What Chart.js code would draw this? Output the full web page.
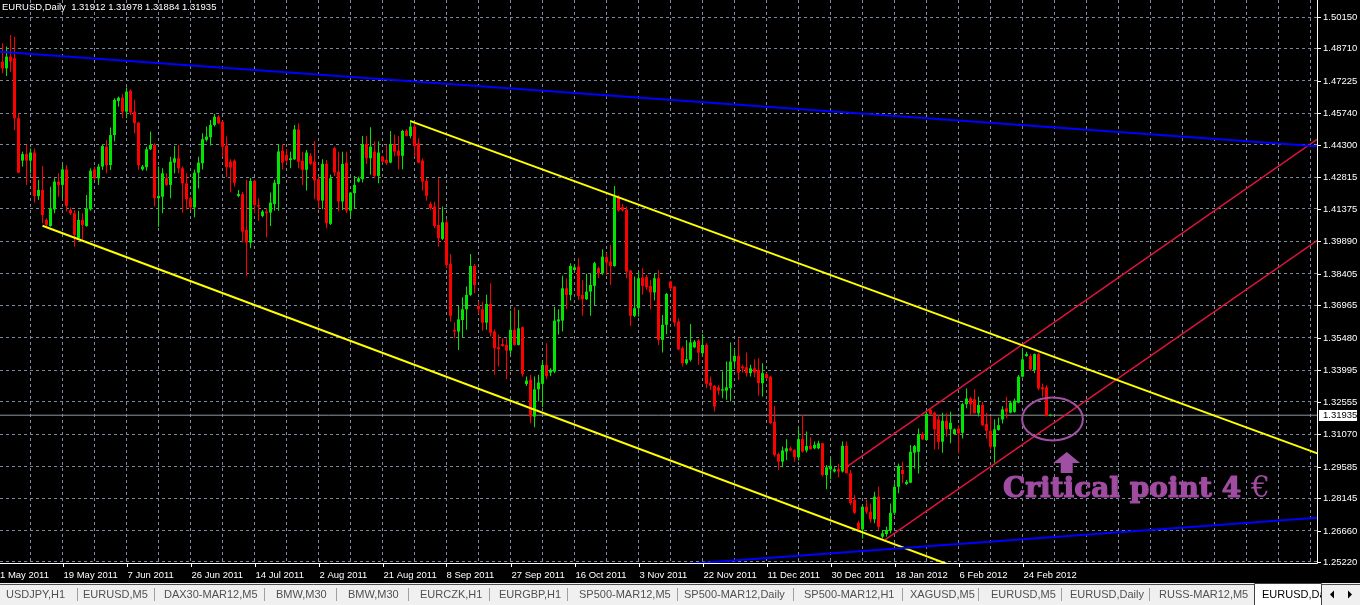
<!DOCTYPE html>
<html>
<head>
<meta charset="utf-8">
<title>EURUSD,Daily</title>
<script src="https://cdn.jsdelivr.net/npm/chart.js@4.4.1/dist/chart.umd.min.js"></script>
<style>
  html, body { margin: 0; padding: 0; background: #000; }
  #wrap { position: relative; width: 1360px; height: 605px; }
</style>
</head>
<body>
<div id="wrap"><canvas id="mtChart"></canvas></div>
<script>
// daily bars, 2 May 2011 .. 4 Mar 2012 (bar index 0 = 2 May 2011)
const opens = [
  1.4811,1.4780,1.4834,1.4826,1.4552,1.4358,1.4388,1.4358,1.4395,1.4196,
  1.4224,1.4087,1.4059,1.4135,1.4262,1.4247,1.4318,1.4132,1.4117,1.4003,
  1.4087,1.4059,1.4135,1.4318,1.4277,1.4331,1.4422,1.4338,1.4475,1.4631,
  1.4646,1.4582,1.4678,1.4582,1.4532,1.4318,1.4328,1.4410,1.4430,1.4186,
  1.4193,1.4277,1.4247,1.4349,1.4369,1.4323,1.4254,1.4186,1.4144,1.4303,
  1.4346,1.4453,1.4465,1.4521,1.4559,1.4536,1.4427,1.4353,1.4358,1.4196,
  1.4205,1.4041,1.3983,1.4265,1.4155,1.4105,1.4125,1.4120,1.4160,1.4251,
  1.4404,1.4384,1.4361,1.4364,1.4501,1.4358,1.4316,1.4380,1.4354,1.4273,
  1.4175,1.4343,1.4069,1.4415,1.4308,1.4171,1.4349,1.4129,1.4209,1.4262,
  1.4273,1.4434,1.4369,1.4399,1.4288,1.4377,1.4361,1.4349,1.4434,1.4404,
  1.4380,1.4495,1.4471,1.4514,1.4437,1.4358,1.4265,1.4160,1.4148,1.4064,
  1.4000,1.4076,1.3886,1.3584,1.3576,1.3629,1.3678,1.3744,1.3876,1.3693,
  1.3678,1.3617,1.3702,1.3576,1.3504,1.3519,1.3515,1.3489,1.3584,1.3515,
  1.3596,1.3336,1.3355,1.3187,1.3312,1.3337,1.3423,1.3388,1.3393,1.3622,
  1.3626,1.3774,1.3744,1.3858,1.3873,1.3744,1.3724,1.3759,1.3785,1.3866,
  1.3843,1.3916,1.3896,1.3876,1.4190,1.4145,1.4133,1.3855,1.3648,1.3683,
  1.3823,1.3825,1.3785,1.3755,1.3820,1.3538,1.3607,1.3805,1.3782,1.3622,
  1.3500,1.3431,1.3447,1.3504,1.3535,1.3477,1.3515,1.3343,1.3328,1.3321,
  1.3306,1.3306,1.3317,1.3439,1.3465,1.3416,1.3413,1.3386,1.3408,1.3401,
  1.3340,1.3382,1.3370,1.3164,1.3016,1.2981,1.3027,1.3042,1.3035,1.3001,
  1.3084,1.3032,1.3053,1.3042,1.3042,1.3065,1.2920,1.2946,1.2936,1.2946,
  1.2936,1.3053,1.2928,1.2805,1.2702,1.2671,1.2775,1.2752,1.2717,1.2821,
  1.2638,1.2650,1.2665,1.2747,1.2866,1.2943,1.2879,1.2885,1.3022,1.3026,
  1.3107,1.3080,1.3217,1.3205,1.3174,1.3072,1.3168,1.3129,1.3107,1.3133,
  1.3113,1.3244,1.3270,1.3266,1.3202,1.3240,1.3153,1.3122,1.3049,1.3126,
  1.3174,1.3225,1.3205,1.3209,1.3251,1.3370,1.3464,1.3464,1.3400,1.3473,
  1.3321,1.3321,1.31912
];
const highs = [
  1.4895,1.4880,1.4933,1.4925,1.4575,1.4399,1.4430,1.4414,1.4414,1.4270,
  1.4334,1.4094,1.4239,1.4277,1.4300,1.4338,1.4338,1.4144,1.4132,1.4129,
  1.4117,1.4201,1.4323,1.4331,1.4343,1.4434,1.4453,1.4510,1.4643,1.4651,
  1.4663,1.4693,1.4684,1.4636,1.4536,1.4338,1.4422,1.4491,1.4437,1.4331,
  1.4323,1.4300,1.4376,1.4425,1.4430,1.4331,1.4300,1.4193,1.4318,1.4376,
  1.4483,1.4514,1.4544,1.4571,1.4567,1.4541,1.4468,1.4364,1.4364,1.4224,
  1.4216,1.4270,1.4280,1.4270,1.4186,1.4132,1.4140,1.4212,1.4270,1.4434,
  1.4434,1.4411,1.4399,1.4521,1.4529,1.4399,1.4407,1.4392,1.4448,1.4285,
  1.4364,1.4361,1.4293,1.4422,1.4399,1.4399,1.4399,1.4215,1.4288,1.4285,
  1.4471,1.4471,1.4511,1.4445,1.4445,1.4380,1.4430,1.4494,1.4476,1.4471,
  1.4499,1.4502,1.4544,1.4529,1.4460,1.4369,1.4277,1.4170,1.4170,1.4277,
  1.4148,1.4090,1.3931,1.3617,1.3693,1.3733,1.3782,1.3931,1.3885,1.3713,
  1.3713,1.3744,1.3797,1.3587,1.3561,1.3545,1.3545,1.3672,1.3687,1.3675,
  1.3599,1.3370,1.3378,1.3370,1.3378,1.3446,1.3523,1.3408,1.3690,1.3678,
  1.3831,1.3820,1.3889,1.3885,1.3911,1.3812,1.3840,1.3843,1.3896,1.3873,
  1.3953,1.3934,1.3972,1.4242,1.4201,1.4160,1.4148,1.3858,1.3828,1.3850,
  1.3866,1.3835,1.3813,1.3843,1.3858,1.3652,1.3752,1.3809,1.3785,1.3637,
  1.3508,1.3538,1.3611,1.3538,1.3541,1.3565,1.3523,1.3370,1.3332,1.3332,
  1.3393,1.3439,1.3526,1.3495,1.3546,1.3424,1.3480,1.3424,1.3450,1.3454,
  1.3431,1.3386,1.3373,1.3236,1.3023,1.3050,1.3084,1.3050,1.3038,1.3129,
  1.3195,1.3119,1.3093,1.3073,1.3077,1.3068,1.2966,1.2997,1.2955,1.2971,
  1.3073,1.3073,1.2943,1.2828,1.2711,1.2778,1.2808,1.2790,1.2843,1.2866,
  1.2668,1.2683,1.2790,1.2882,1.2973,1.2981,1.2897,1.3057,1.3057,1.3133,
  1.3118,1.3217,1.3225,1.3209,1.3194,1.3205,1.3202,1.3209,1.3133,1.3148,
  1.3251,1.3316,1.3278,1.3312,1.3278,1.3255,1.3205,1.3190,1.3174,1.3183,
  1.3235,1.3278,1.3260,1.3270,1.3377,1.3492,1.3484,1.3473,1.3476,1.3479,
  1.3339,1.3331,1.31978
];
const lows = [
  1.4758,1.4745,1.4765,1.4498,1.4300,1.4331,1.4247,1.4300,1.4166,1.4178,
  1.4071,1.4056,1.4056,1.4117,1.4193,1.4186,1.4125,1.4109,1.3965,1.3998,
  1.3998,1.4056,1.4129,1.4270,1.4247,1.4315,1.4300,1.4315,1.4445,1.4605,
  1.4552,1.4552,1.4567,1.4483,1.4315,1.4312,1.4312,1.4407,1.4148,1.4056,
  1.4117,1.4242,1.4186,1.4300,1.4300,1.4120,1.4135,1.4132,1.4099,1.4231,
  1.4318,1.4445,1.4427,1.4514,1.4526,1.4376,1.4282,1.4212,1.4239,1.4190,
  1.3983,1.3830,1.3957,1.4117,1.4083,1.4099,1.4007,1.4059,1.4129,1.4129,
  1.4318,1.4346,1.4323,1.4361,1.4323,1.4247,1.4221,1.4338,1.4181,1.4136,
  1.4136,1.4049,1.4064,1.4288,1.4125,1.4132,1.4117,1.4099,1.4140,1.4258,
  1.4258,1.4343,1.4293,1.4277,1.4255,1.4349,1.4338,1.4346,1.4377,1.4319,
  1.4319,1.4468,1.4460,1.4376,1.4346,1.4221,1.4175,1.4133,1.4049,1.3965,
  1.3995,1.3866,1.3622,1.3545,1.3492,1.3550,1.3584,1.3739,1.3751,1.3657,
  1.3580,1.3584,1.3553,1.3378,1.3416,1.3507,1.3358,1.3474,1.3512,1.3512,
  1.3370,1.3327,1.3157,1.3138,1.3256,1.3230,1.3358,1.3373,1.3385,1.3561,
  1.3576,1.3678,1.3718,1.3855,1.3721,1.3648,1.3721,1.3648,1.3698,1.3820,
  1.3835,1.3835,1.3789,1.3873,1.4125,1.4125,1.3820,1.3602,1.3642,1.3645,
  1.3744,1.3767,1.3678,1.3718,1.3515,1.3480,1.3565,1.3767,1.3599,1.3489,
  1.3416,1.3424,1.3439,1.3500,1.3424,1.3465,1.3317,1.3309,1.3210,1.3286,
  1.3271,1.3264,1.3256,1.3408,1.3355,1.3389,1.3370,1.3370,1.3367,1.3282,
  1.3279,1.3358,1.3154,1.3004,1.2943,1.2955,1.2989,1.3027,1.2981,1.2986,
  1.3023,1.3023,1.3035,1.3038,1.3038,1.2913,1.2855,1.2901,1.2931,1.2910,
  1.2931,1.2928,1.2783,1.2741,1.2668,1.2630,1.2741,1.2702,1.2699,1.2668,
  1.2630,1.2638,1.2653,1.2737,1.2836,1.2882,1.2874,1.2882,1.2950,1.2927,
  1.3080,1.3077,1.3194,1.3037,1.3037,1.3022,1.3095,1.3065,1.3103,1.3019,
  1.3087,1.3225,1.3194,1.3202,1.3187,1.3144,1.3087,1.3037,1.2976,1.3122,
  1.3156,1.3179,1.3202,1.3205,1.3248,1.3366,1.3461,1.3397,1.3385,1.3308,
  1.3278,1.3187,1.31884
];
const closes = [
  1.4780,1.4834,1.4811,1.4552,1.4303,1.4388,1.4358,1.4395,1.4196,1.4224,
  1.4109,1.4064,1.4140,1.4262,1.4247,1.4318,1.4151,1.4117,1.4018,1.4087,
  1.4064,1.4140,1.4312,1.4277,1.4331,1.4425,1.4338,1.4475,1.4636,1.4646,
  1.4582,1.4674,1.4578,1.4529,1.4338,1.4331,1.4410,1.4430,1.4186,1.4196,
  1.4300,1.4247,1.4353,1.4369,1.4323,1.4254,1.4181,1.4144,1.4303,1.4349,
  1.4456,1.4468,1.4521,1.4559,1.4529,1.4422,1.4328,1.4326,1.4257,1.4205,
  1.4033,1.3983,1.4265,1.4155,1.4148,1.4125,1.4117,1.4166,1.4257,1.4400,
  1.4349,1.4358,1.4369,1.4501,1.4353,1.4316,1.4395,1.4343,1.4267,1.4175,
  1.4343,1.4072,1.4277,1.4303,1.4171,1.4343,1.4129,1.4212,1.4247,1.4277,
  1.4434,1.4369,1.4422,1.4288,1.4395,1.4354,1.4346,1.4434,1.4399,1.4380,
  1.4494,1.4471,1.4514,1.4425,1.4349,1.4262,1.4197,1.4140,1.4059,1.4003,
  1.4076,1.3881,1.3648,1.3576,1.3632,1.3678,1.3744,1.3876,1.3789,1.3678,
  1.3617,1.3702,1.3571,1.3500,1.3495,1.3510,1.3489,1.3584,1.3515,1.3591,
  1.3382,1.3352,1.3187,1.3312,1.3343,1.3423,1.3373,1.3401,1.3626,1.3632,
  1.3774,1.3744,1.3876,1.3870,1.3739,1.3724,1.3759,1.3789,1.3889,1.3843,
  1.3919,1.3892,1.3876,1.4194,1.4130,1.4130,1.3850,1.3648,1.3683,1.3820,
  1.3785,1.3779,1.3755,1.3820,1.3538,1.3607,1.3748,1.3774,1.3617,1.3495,
  1.3431,1.3450,1.3526,1.3530,1.3480,1.3515,1.3337,1.3328,1.3233,1.3306,
  1.3312,1.3321,1.3439,1.3465,1.3389,1.3408,1.3386,1.3408,1.3389,1.3340,
  1.3386,1.3363,1.3157,1.3012,1.2981,1.3032,1.3042,1.3032,1.3001,1.3084,
  1.3027,1.3053,1.3038,1.3058,1.3065,1.2920,1.2955,1.2962,1.2946,1.2936,
  1.3053,1.2928,1.2791,1.2747,1.2671,1.2775,1.2752,1.2717,1.2821,1.2683,
  1.2653,1.2668,1.2747,1.2866,1.2961,1.2924,1.2889,1.3026,1.3052,1.3107,
  1.3083,1.3199,1.3199,1.3129,1.3072,1.3168,1.3129,1.3159,1.3129,1.3110,
  1.3244,1.3270,1.3244,1.3202,1.3240,1.3148,1.3122,1.3049,1.3129,1.3148,
  1.3220,1.3209,1.3251,1.3260,1.3370,1.3449,1.3473,1.3403,1.3473,1.3316,
  1.3312,1.3190,1.31935
];

// right price scale ticks
const priceTicks = [1.25220,1.26660,1.28145,1.29585,1.31070,1.32555,1.33995,1.35480,1.36965,
                    1.38405,1.39890,1.41375,1.42815,1.44300,1.45740,1.47225,1.48710,1.50150];
// time axis labels and the bar each one sits on
const dateLabels = ['1 May 2011','19 May 2011','7 Jun 2011','26 Jun 2011','14 Jul 2011','2 Aug 2011',
                    '21 Aug 2011','8 Sep 2011','27 Sep 2011','16 Oct 2011','3 Nov 2011','22 Nov 2011',
                    '11 Dec 2011','30 Dec 2011','18 Jan 2012','6 Feb 2012','24 Feb 2012'];
const dateBars = [-1,15,31,47,63,79,95,111,127,143,159,175,191,207,223,239,255];

// drawn objects: [bar, price] pairs
const blueUpper   = [[-1, 1.4857], [329, 1.4423]];
const blueLower   = [[150, 1.2485], [329, 1.2725]];
const yellowUpper = [[102, 1.4539], [329, 1.3017]];
const yellowLower = [[10, 1.4060], [329, 1.1878]];
const redUpper    = [[211.1, 1.2958], [329, 1.4460]];
const redLower    = [[220.6, 1.2623], [329, 1.3997]];
const lastPrice = 1.31935;

const ring = { x: 262.5, y: 1.3176, rx: 7.6, ry: 0.0098 };
const arrowMark = { x: 266.05, tip: 1.3025, base: 1.2929 };
const note = { x: 250.1, y: 1.2820, text: 'Critical point 4', sign: '€' };

const tabNames = ['USDJPY,H1','EURUSD,M5','DAX30-MAR12,M5','BMW,M30','BMW,M30','EURCZK,H1','EURGBP,H1',
                  'SP500-MAR12,M5','SP500-MAR12,Daily','SP500-MAR12,H1','XAGUSD,M5','EURUSD,M5',
                  'EURUSD,Daily','RUSS-MAR12,M5','EURUSD,Daily'];
const tabX = [6, 83, 164, 276, 348, 420, 499, 579, 684, 804, 910, 991, 1070, 1159, 1262];
const tabSeps = [77, 154, 264, 336, 408, 489, 567, 677, 793, 902, 978, 1061, 1149];

const UP = '#00e600', DOWN = '#ff0000', GRID = '#7a8a9a';
const LABEL_FONT = '9.5px "Liberation Sans", Arial, sans-serif';

const barColors = opens.map((o, i) => closes[i] >= o ? UP : DOWN);
const gridBars = [];
for (let k = 7; k <= 327; k += 8) gridBars.push(k);

function trend(points, color, width) {
  return {
    type: 'line',
    data: points.map(p => ({ x: p[0], y: p[1] })),
    borderColor: color,
    borderWidth: width,
    pointRadius: 0,
    tension: 0,
    order: 0
  };
}

const mtOverlay = {
  id: 'mtOverlay',
  afterDatasetsDraw(chart) {
    const { ctx, chartArea: a, scales: { x, y } } = chart;
    ctx.save();
    ctx.beginPath();
    ctx.rect(a.left, a.top, a.right - a.left, a.bottom - a.top);
    ctx.clip();

    // ellipse around the test of the channel
    const cx = x.getPixelForValue(ring.x), cy = y.getPixelForValue(ring.y);
    const rx = x.getPixelForValue(ring.x + ring.rx) - cx;
    const ry = y.getPixelForValue(ring.y - ring.ry) - cy;
    ctx.strokeStyle = '#a050a2';
    ctx.lineWidth = 2;
    ctx.beginPath();
    ctx.ellipse(cx, cy, rx, ry, 0, 0, Math.PI * 2);
    ctx.stroke();

    // arrow pointing up at the ellipse
    const ax = x.getPixelForValue(arrowMark.x);
    const ty = y.getPixelForValue(arrowMark.tip), by = y.getPixelForValue(arrowMark.base);
    ctx.fillStyle = '#a050a2';
    ctx.beginPath();
    ctx.moveTo(ax, ty);
    ctx.lineTo(ax + 13.5, ty + 11);
    ctx.lineTo(ax + 6, ty + 11);
    ctx.lineTo(ax + 6, by);
    ctx.lineTo(ax - 6, by);
    ctx.lineTo(ax - 6, ty + 11);
    ctx.lineTo(ax - 13.5, ty + 11);
    ctx.closePath();
    ctx.fill();

    // caption
    const tx = x.getPixelForValue(note.x), tyy = y.getPixelForValue(note.y);
    ctx.fillStyle = '#9f4ca1';
    ctx.strokeStyle = '#9f4ca1';
    ctx.lineWidth = 1.2;
    ctx.lineJoin = 'round';
    ctx.textBaseline = 'alphabetic';
    ctx.font = 'bold 28px "DejaVu Serif", serif';
    ctx.fillText(note.text, tx, tyy);
    ctx.strokeText(note.text, tx, tyy);
    const w = ctx.measureText(note.text + ' ').width;
    ctx.font = '30px "DejaVu Serif", serif';
    ctx.fillText(note.sign, tx + w, tyy);
    ctx.restore();
  },
  afterDraw(chart) {
    const { ctx, chartArea: a, scales: { x, y } } = chart;
    const W = chart.width;
    ctx.save();

    // axis borders
    ctx.strokeStyle = '#ffffff';
    ctx.lineWidth = 1;
    ctx.beginPath();
    ctx.moveTo(a.right + 0.5, 0);
    ctx.lineTo(a.right + 0.5, a.bottom + 0.5);
    ctx.lineTo(0, a.bottom + 0.5);
    ctx.stroke();

    // price labels
    ctx.font = LABEL_FONT;
    ctx.textBaseline = 'middle';
    ctx.textAlign = 'left';
    ctx.fillStyle = '#ffffff';
    priceTicks.forEach(v => {
      const py = Math.round(y.getPixelForValue(v)) + 0.5;
      ctx.beginPath();
      ctx.moveTo(a.right, py);
      ctx.lineTo(a.right + 4, py);
      ctx.stroke();
      ctx.fillText(v.toFixed(5), a.right + 6, py);
    });

    // bid label
    const ly = Math.round(y.getPixelForValue(lastPrice));
    ctx.fillStyle = '#ffffff';
    ctx.fillRect(a.right + 2, ly - 5, 38, 11);
    ctx.fillStyle = '#000000';
    ctx.fillText(lastPrice.toFixed(5), a.right + 6, ly + 0.5);

    // date labels
    ctx.fillStyle = '#ffffff';
    dateLabels.forEach((t, i) => {
      const px = Math.round(x.getPixelForValue(dateBars[i])) + 0.5;
      ctx.beginPath();
      ctx.moveTo(px, a.bottom);
      ctx.lineTo(px, a.bottom + 4);
      ctx.stroke();
      ctx.fillText(t, Math.max(px, 0), a.bottom + 12);
    });

    // header
    const n = opens.length - 1;
    ctx.textBaseline = 'alphabetic';
    ctx.font = '9.5px "Liberation Sans", Arial, sans-serif';
    ctx.fillText('EURUSD,Daily  ' + [opens[n], highs[n], lows[n], closes[n]].map(v => v.toFixed(5)).join(' '), 2, 10);

    // tab bar
    const top = 583;
    ctx.fillStyle = '#f0f0f0';
    ctx.fillRect(0, top, W, chart.height - top);
    ctx.strokeStyle = '#505050';
    ctx.beginPath();
    ctx.moveTo(0, top + 1.5); ctx.lineTo(1254, top + 1.5);
    ctx.moveTo(1322, top + 1.5); ctx.lineTo(W, top + 1.5);
    ctx.stroke();
    ctx.strokeStyle = '#a0a0a0';
    tabSeps.forEach(sx => {
      ctx.beginPath();
      ctx.moveTo(sx + 0.5, top + 5);
      ctx.lineTo(sx + 0.5, top + 18);
      ctx.stroke();
    });
    ctx.fillStyle = '#ffffff';
    ctx.fillRect(1254, top, 68, chart.height - top);
    ctx.strokeStyle = '#404040';
    ctx.beginPath();
    ctx.moveTo(1254.5, chart.height); ctx.lineTo(1254.5, top + 0.5);
    ctx.lineTo(1321.5, top + 0.5); ctx.lineTo(1321.5, chart.height);
    ctx.stroke();

    ctx.font = '11px "Liberation Sans", Arial, sans-serif';
    ctx.textBaseline = 'middle';
    tabNames.forEach((t, i) => {
      const last = i === tabNames.length - 1;
      ctx.save();
      if (last) {
        ctx.beginPath();
        ctx.rect(1255, top, 66, chart.height - top);
        ctx.clip();
      }
      ctx.fillStyle = last ? '#000000' : '#505050';
      ctx.fillText(t, tabX[i], top + 11.5);
      ctx.restore();
    });

    // scroll arrows
    ctx.fillStyle = '#000000';
    ctx.beginPath();
    ctx.moveTo(1330, top + 11.5); ctx.lineTo(1334, top + 7.5); ctx.lineTo(1334, top + 15.5);
    ctx.closePath(); ctx.fill();
    ctx.beginPath();
    ctx.moveTo(1352, top + 11.5); ctx.lineTo(1348, top + 7.5); ctx.lineTo(1348, top + 15.5);
    ctx.closePath(); ctx.fill();

    ctx.restore();
  }
};

const idx = opens.map((_, i) => i);

new Chart(document.getElementById('mtChart').getContext('2d'), {
  type: 'bar',
  data: {
    datasets: [
      trend(blueUpper, '#0000ff', 2),
      trend(blueLower, '#0000ff', 2),
      trend(yellowUpper, '#ffff00', 2),
      trend(yellowLower, '#ffff00', 2),
      trend(redUpper, '#e0143c', 1.5),
      trend(redLower, '#e0143c', 1.5),
      {
        label: 'bodies',
        data: idx.map(i => ({ x: i, y: [opens[i], closes[i]] })),
        backgroundColor: barColors,
        barThickness: 3,
        minBarLength: 1,
        inflateAmount: 0,
        grouped: false,
        order: 1
      },
      {
        label: 'wicks',
        data: idx.map(i => ({ x: i, y: [lows[i], highs[i]] })),
        backgroundColor: barColors,
        barThickness: 1,
        minBarLength: 1,
        inflateAmount: 0,
        grouped: false,
        order: 2
      },
      {
        type: 'line',
        data: [{ x: -1, y: lastPrice }, { x: 330, y: lastPrice }],
        borderColor: '#8e959c',
        borderWidth: 1,
        pointRadius: 0,
        order: 3
      }
    ]
  },
  options: {
    responsive: true,
    maintainAspectRatio: false,
    animation: false,
    events: [],
    layout: { padding: { left: 0, top: 0, right: 0, bottom: 22 } },
    plugins: { legend: { display: false }, tooltip: { enabled: false } },
    scales: {
      x: {
        type: 'linear',
        offset: false,
        min: -0.625,
        max: 328.625,
        afterBuildTicks: s => { s.ticks = gridBars.map(v => ({ value: v })); },
        afterFit: s => { s.height = 20; },
        ticks: { display: false },
        grid: { color: GRID, lineWidth: 1, drawTicks: false, offset: false },
        border: { display: false, dash: [3, 3] }
      },
      y: {
        position: 'right',
        min: 1.25174,
        max: 1.50928,
        afterBuildTicks: s => { s.ticks = priceTicks.map(v => ({ value: v })); },
        afterFit: s => { s.width = 43; },
        ticks: { display: false },
        grid: { color: GRID, lineWidth: 1, drawTicks: false },
        border: { display: false, dash: [3, 3] }
      }
    }
  },
  plugins: [mtOverlay]
});
</script>
</body>
</html>
